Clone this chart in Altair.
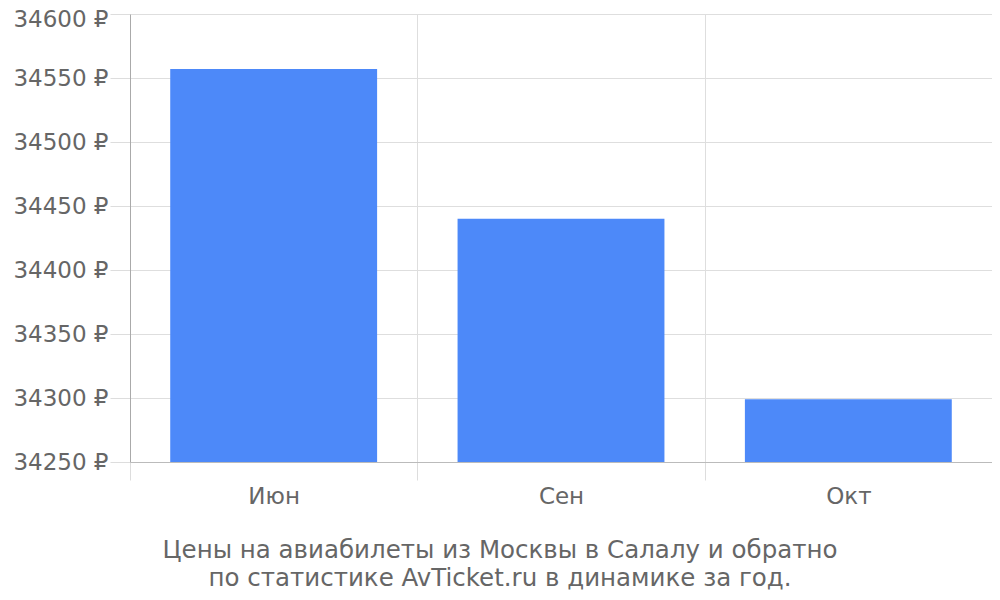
import altair as alt
import pandas as pd

months = ["Июн", "Сен", "Окт"]
prices = [34557, 34440, 34299]
base = [34250, 34250, 34250]
y_ticks = [34250, 34300, 34350, 34400, 34450, 34500, 34550, 34600]

df = pd.DataFrame({"month": months, "price": prices, "base": base})

FONT = "DejaVu Sans"
TXT = "#666666"

chart = alt.Chart(df).mark_bar(color="#4d89f9", width=alt.RelativeBandSize(0.72)).encode(
    x=alt.X("month:N", sort=months, title=None,
            scale=alt.Scale(paddingInner=0, paddingOuter=0),
            axis=alt.Axis(labelAngle=0, labelFont=FONT, labelFontSize=23, labelColor=TXT,
                          labelPadding=5, tickBand="extent", tickSize=18, tickColor="#dddddd",
                          domainColor="#bbbbbb", grid=True, gridColor="#dedede")),
    y=alt.Y("price:Q", title=None,
            scale=alt.Scale(domain=[34250, 34600], zero=False, nice=False),
            axis=alt.Axis(values=y_ticks, labelExpr="datum.value + ' ₽'", labelFont=FONT,
                          labelFontSize=23, labelColor=TXT, tickSize=20, tickColor="#dddddd",
                          labelPadding=2, domainColor="#aaaaaa", gridColor="#dedede",
                          labelOffset={"condition": {"test": "datum.value == 34600", "value": 5},
                                       "value": 0})),
    y2="base:Q",
).properties(
    width=862, height=448,
    title=alt.TitleParams(
        text=["Цены на авиабилеты из Москвы в Салалу и обратно",
              "по статистике AvTicket.ru в динамике за год."],
        orient="bottom", anchor="middle", font=FONT, fontSize=24.5, fontWeight="normal",
        color=TXT, dx=-61, offset=31, lineHeight=28),
    autosize=alt.AutoSizeParams(type="none"),
    padding={"left": 122, "top": 6, "right": 0, "bottom": 138},
).configure_view(stroke=None)

chart.save("out.html", embed_options={"renderer": "svg", "actions": False})
